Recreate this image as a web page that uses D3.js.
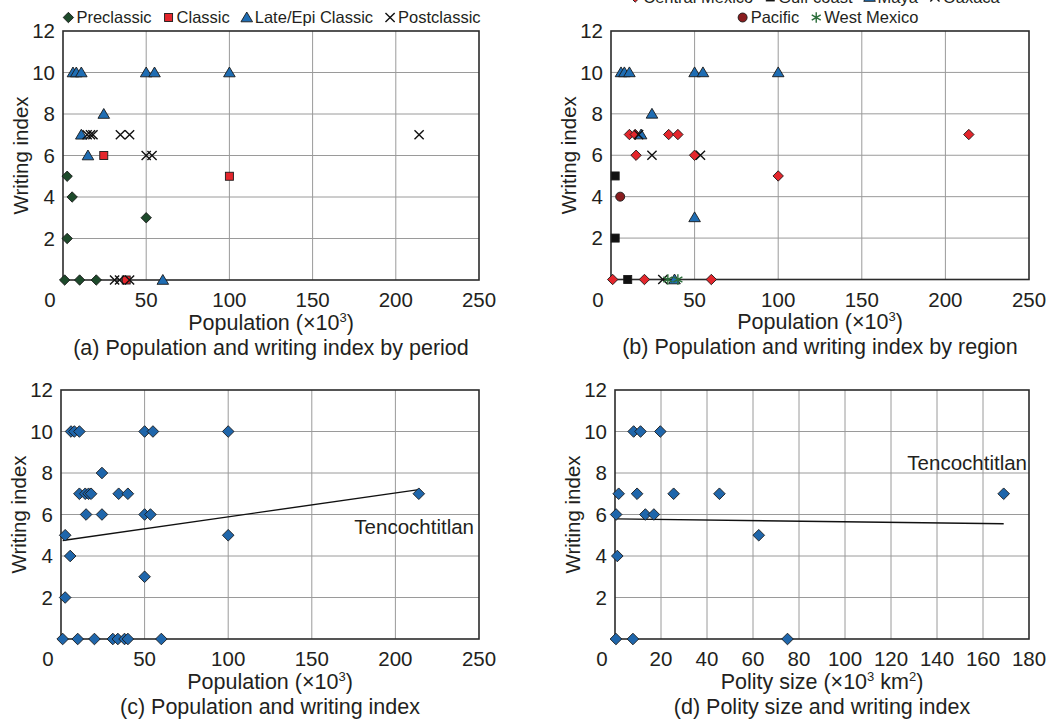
<!DOCTYPE html>
<html lang="en">
<head>
<meta charset="UTF-8">
<title>Population, polity size and writing index</title>
<script src="https://cdn.jsdelivr.net/npm/d3@7"></script>
<style>
  body { margin: 0; background: #fff; }
  svg text { font-family: "Liberation Sans", Arial, sans-serif; fill: #231f20; }
</style>
</head>
<body>
<svg id="chart" width="1051" height="722"></svg>
<script>
// site data (population in thousands, writing index 0-12)
const population = [6, 8, 11, 50, 55, 100, 24.5, 11, 14.5, 16.5, 18, 34.5, 40, 214,
  15, 24.5, 50, 53.5, 2.5, 100, 5.5, 50, 2.5, 1, 10, 20, 31, 34, 38, 40, 60];
const writing = [10, 10, 10, 10, 10, 10, 8, 7, 7, 7, 7, 7, 7, 7,
  6, 6, 6, 6, 5, 5, 4, 3, 2, 0, 0, 0, 0, 0, 0, 0, 0];
const period = ["Late/Epi Classic", "Late/Epi Classic", "Late/Epi Classic", "Late/Epi Classic",
  "Late/Epi Classic", "Late/Epi Classic", "Late/Epi Classic", "Late/Epi Classic",
  "Postclassic", "Postclassic", "Postclassic", "Postclassic", "Postclassic", "Postclassic",
  "Late/Epi Classic", "Classic", "Postclassic", "Postclassic", "Preclassic", "Classic",
  "Preclassic", "Preclassic", "Preclassic", "Preclassic", "Preclassic", "Preclassic",
  "Postclassic", "Postclassic", "Classic", "Postclassic", "Late/Epi Classic"];
const region = ["Maya", "Maya", "Maya", "Maya", "Maya", "Maya", "Maya", "Central Mexico",
  "Central Mexico", "Oaxaca", "Maya", "Central Mexico", "Central Mexico", "Central Mexico",
  "Central Mexico", "Oaxaca", "Central Mexico", "Oaxaca", "Gulf coast", "Central Mexico",
  "Pacific", "Maya", "Gulf coast", "Central Mexico", "Gulf coast", "Central Mexico",
  "Oaxaca", "West Mexico", "Maya", "West Mexico", "Central Mexico"];

// polity size (thousand km2) with writing index
const politySize = [0.5, 1.6, 1, 0.4, 7.8, 8.1, 11.1, 19.7, 9.6, 13.2, 16.9, 25.5, 45.4, 62.5, 75, 169];
const polityWriting = [6, 7, 4, 0, 0, 10, 10, 10, 7, 6, 6, 7, 7, 5, 0, 7];

const periods = ["Preclassic", "Classic", "Late/Epi Classic", "Postclassic"];
const regions = ["Central Mexico", "Gulf coast", "Maya", "Oaxaca", "Pacific", "West Mexico"];
const writingTicks = [2, 4, 6, 8, 10, 12];
const popTicks = [0, 50, 100, 150, 200, 250];
const polityTicks = [0, 20, 40, 60, 80, 100, 120, 140, 160, 180];

// marker styles
const periodStyle = {
  "Preclassic": { shape: "diamond", fill: "#1d4a2b" },
  "Classic": { shape: "square", fill: "#e4262c" },
  "Late/Epi Classic": { shape: "triangle", fill: "#1f6db3" },
  "Postclassic": { shape: "x", fill: "#111" }
};
const regionStyle = {
  "Central Mexico": { shape: "diamond", fill: "#e4262c" },
  "Gulf coast": { shape: "square", fill: "#111" },
  "Maya": { shape: "triangle", fill: "#1f6db3" },
  "Oaxaca": { shape: "x", fill: "#111" },
  "Pacific": { shape: "circle", fill: "#8a1d1f" },
  "West Mexico": { shape: "asterisk", fill: "#2b6e3a" }
};
const blueDiamond = { shape: "diamond", fill: "#1f66ab", big: true };

const svg = d3.select("#chart");

function marker(g, st, x, y) {
  const s = st.big ? 5.8 : 5.2;
  if (st.shape === "diamond") {
    g.append("path").attr("d", `M${x},${y - s}L${x + s},${y}L${x},${y + s}L${x - s},${y}Z`)
      .attr("fill", st.fill).attr("stroke", "#1a1a1a").attr("stroke-width", 0.9);
  } else if (st.shape === "square") {
    g.append("rect").attr("x", x - 4).attr("y", y - 4).attr("width", 8).attr("height", 8)
      .attr("fill", st.fill).attr("stroke", "#1a1a1a").attr("stroke-width", 0.9);
  } else if (st.shape === "triangle") {
    g.append("path").attr("d", `M${x},${y - 5.5}L${x + 5.8},${y + 4.3}L${x - 5.8},${y + 4.3}Z`)
      .attr("fill", st.fill).attr("stroke", "#1a1a1a").attr("stroke-width", 0.9);
  } else if (st.shape === "x") {
    g.append("path").attr("d", `M${x - 4.6},${y - 4.6}L${x + 4.6},${y + 4.6}M${x - 4.6},${y + 4.6}L${x + 4.6},${y - 4.6}`)
      .attr("stroke", st.fill).attr("stroke-width", 1.4).attr("fill", "none");
  } else if (st.shape === "circle") {
    g.append("circle").attr("cx", x).attr("cy", y).attr("r", 4.5)
      .attr("fill", st.fill).attr("stroke", "#1a1a1a").attr("stroke-width", 0.9);
  } else if (st.shape === "asterisk") {
    g.append("path").attr("d", `M${x},${y - 5.2}L${x},${y + 5.2}M${x - 4.5},${y - 2.6}L${x + 4.5},${y + 2.6}M${x - 4.5},${y + 2.6}L${x + 4.5},${y - 2.6}`)
      .attr("stroke", st.fill).attr("stroke-width", 1.4).attr("fill", "none");
  }
}

function panel(p) {
  const g = svg.append("g");
  const x = d3.scaleLinear().domain([p.xTicks[0], p.xTicks[p.xTicks.length - 1]]).range([p.left, p.right]);
  const y = d3.scaleLinear().domain([0, 12]).range([p.bottom, p.top]);

  // grid
  g.selectAll(".vg").data(p.xTicks.slice(1, -1)).enter().append("line")
    .attr("x1", d => x(d)).attr("x2", d => x(d)).attr("y1", p.top).attr("y2", p.bottom)
    .attr("stroke", "#9a9a9a").attr("stroke-width", 1);
  g.selectAll(".hg").data(writingTicks.slice(0, -1)).enter().append("line")
    .attr("x1", p.left).attr("x2", p.right).attr("y1", d => y(d)).attr("y2", d => y(d))
    .attr("stroke", "#9a9a9a").attr("stroke-width", 1);
  g.append("rect").attr("x", p.left).attr("y", p.top)
    .attr("width", p.right - p.left).attr("height", p.bottom - p.top)
    .attr("fill", "none").attr("stroke", "#2b2b2b").attr("stroke-width", 1.6);

  // tick labels
  g.selectAll(".yt").data(writingTicks).enter().append("text")
    .attr("x", p.left - 8).attr("y", d => y(d)).attr("dy", "0.35em")
    .attr("text-anchor", "end").attr("font-size", 20.5).text(d => d);
  g.selectAll(".xt").data(p.xTicks.slice(1)).enter().append("text")
    .attr("x", d => x(d)).attr("y", p.bottom + 20).attr("dy", "0.35em")
    .attr("text-anchor", "middle").attr("font-size", 20.5).text(d => d);
  g.append("text").attr("x", p.left - 13).attr("y", p.bottom + 20).attr("dy", "0.35em")
    .attr("text-anchor", "middle").attr("font-size", 20.5).text("0");

  // axis labels
  const xl = g.append("text").attr("x", (p.left + p.right) / 2).attr("y", p.bottom + 42)
    .attr("dy", "0.35em").attr("text-anchor", "middle").attr("font-size", 21.5);
  xl.append("tspan").text(p.xLabel[0]);
  xl.append("tspan").attr("font-size", 13).attr("dy", -8).text(p.xLabel[1]);
  xl.append("tspan").attr("dy", 8).text(p.xLabel[2]);
  if (p.xLabel.length > 3) {
    xl.append("tspan").attr("font-size", 13).attr("dy", -8).text(p.xLabel[3]);
    xl.append("tspan").attr("dy", 8).text(p.xLabel[4]);
  }
  g.append("text").attr("transform", `translate(${p.left - 42},${(p.top + p.bottom) / 2}) rotate(-90)`)
    .attr("dy", "0.35em").attr("text-anchor", "middle").attr("font-size", 20.5).text("Writing index");
  g.append("text").attr("x", (p.left + p.right) / 2).attr("y", p.bottom + 67)
    .attr("dy", "0.35em").attr("text-anchor", "middle").attr("font-size", 21.5).text(p.title);

  return { g, x, y };
}

function legend(g, items, cx, cy) {
  const row = g.append("g");
  let pos = 0;
  items.forEach(([label, st]) => {
    marker(row, st, pos + 5, cy);
    const t = row.append("text").attr("x", pos + 13).attr("y", cy).attr("dy", "0.35em")
      .attr("font-size", 16.5).text(label);
    pos += 13 + t.node().getComputedTextLength() + 12;
  });
  const w = pos - 12;
  row.attr("transform", `translate(${cx - w / 2},0)`);
}

function regressionLine(g, x, y, xs, ys) {
  const mx = d3.mean(xs), my = d3.mean(ys);
  const b = d3.sum(xs, (v, i) => (v - mx) * (ys[i] - my)) / d3.sum(xs, v => (v - mx) ** 2);
  const a = my - b * mx;
  const [x0, x1] = d3.extent(xs);
  g.append("line").attr("x1", x(x0)).attr("y1", y(a + b * x0))
    .attr("x2", x(x1)).attr("y2", y(a + b * x1))
    .attr("stroke", "#111").attr("stroke-width", 1.4);
}

const popLabel = ["Population (×10", "3", ")"];
const idx = d3.range(population.length);

// (a) by period
const A = panel({ left: 63, right: 479, top: 31, bottom: 280, xTicks: popTicks, xLabel: popLabel,
  title: "(a) Population and writing index by period" });
periods.forEach(pr => idx.filter(i => period[i] === pr)
  .forEach(i => marker(A.g, periodStyle[pr], A.x(population[i]), A.y(writing[i]))));
legend(A.g, periods.map(pr => [pr, periodStyle[pr]]), 272, 17.5);

// (b) by region
const B = panel({ left: 611, right: 1029, top: 31, bottom: 279.5, xTicks: popTicks, xLabel: popLabel,
  title: "(b) Population and writing index by region" });
regions.forEach(rg => idx.filter(i => region[i] === rg)
  .forEach(i => marker(B.g, regionStyle[rg], B.x(population[i]), B.y(writing[i]))));
legend(B.g, regions.slice(0, 4).map(rg => [rg, regionStyle[rg]]), 815, -3);
legend(B.g, regions.slice(4).map(rg => [rg, regionStyle[rg]]), 828, 17.5);

// (c) population
const C = panel({ left: 61, right: 479, top: 390, bottom: 639, xTicks: popTicks, xLabel: popLabel,
  title: "(c) Population and writing index" });
regressionLine(C.g, C.x, C.y, population, writing);
idx.forEach(i => marker(C.g, blueDiamond, C.x(population[i]), C.y(writing[i])));
C.g.append("text").attr("x", C.x(250) - 5).attr("y", C.y(7) + 33).attr("dy", "0.35em")
  .attr("text-anchor", "end").attr("font-size", 20.5).text("Tencochtitlan");

// (d) polity size
const D = panel({ left: 615, right: 1029, top: 390, bottom: 639, xTicks: polityTicks,
  xLabel: ["Polity size (×10", "3", " km", "2", ")"], title: "(d) Polity size and writing index" });
regressionLine(D.g, D.x, D.y, politySize, polityWriting);
politySize.forEach((v, i) => marker(D.g, blueDiamond, D.x(v), D.y(polityWriting[i])));
D.g.append("text").attr("x", D.x(180) - 2).attr("y", D.y(7) - 31).attr("dy", "0.35em")
  .attr("text-anchor", "end").attr("font-size", 20.5).text("Tencochtitlan");
</script>
</body>
</html>
